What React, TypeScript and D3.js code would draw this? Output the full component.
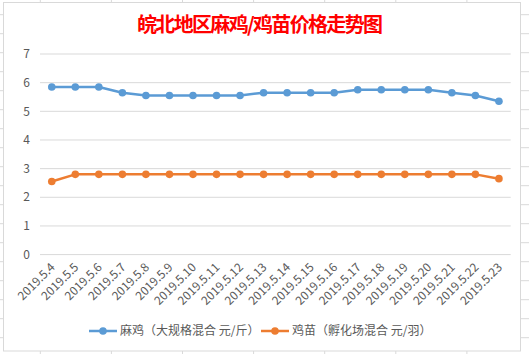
import React from "react";
import * as d3 from "d3";

const categories = ["2019.5.4","2019.5.5","2019.5.6","2019.5.7","2019.5.8","2019.5.9","2019.5.10","2019.5.11","2019.5.12","2019.5.13","2019.5.14","2019.5.15","2019.5.16","2019.5.17","2019.5.18","2019.5.19","2019.5.20","2019.5.21","2019.5.22","2019.5.23"];
const maji = [5.85,5.85,5.85,5.65,5.55,5.55,5.55,5.55,5.55,5.65,5.65,5.65,5.65,5.75,5.75,5.75,5.75,5.65,5.55,5.35];
const jimiao = [2.55,2.8,2.8,2.8,2.8,2.8,2.8,2.8,2.8,2.8,2.8,2.8,2.8,2.8,2.8,2.8,2.8,2.8,2.8,2.65];
const yTicks = [0,1,2,3,4,5,6,7];
const seriesNames = ["麻鸡（大规格混合 元/斤）", "鸡苗（孵化场混合 元/羽）"];
const title = "皖北地区麻鸡/鸡苗价格走势图";

const W = 529, H = 354;
const BLUE = "#5B9BD5", ORANGE = "#ED7D31";
const FONT = "'Noto Sans CJK SC', 'Microsoft YaHei', sans-serif";

export default function App() {
  const x = d3.scaleBand<string>().domain(categories).range([40, 510.7]);
  const y = d3.scaleLinear().domain([0, 7]).range([254.6, 54]);
  const cx = (c: string) => (x(c) as number) + x.bandwidth() / 2;
  const line = d3.line<number>().x((_, i) => cx(categories[i])).y(d => y(d));

  const colLines = d3.range(0, 8).map(i => 40.3 + i * 71.1 - 71.1);
  const rowLines = d3.range(0, 20).map(i => 14.7 + i * 19);

  const series = [
    { name: seriesNames[0], data: maji, color: BLUE },
    { name: seriesNames[1], data: jimiao, color: ORANGE },
  ];

  return (
    <svg width={W} height={H} style={{ position: "absolute", left: 0, top: 0, background: "#fff" }} fontFamily={FONT}>
      {colLines.map((v, i) => (
        <line key={"c" + i} x1={v} x2={v} y1={0} y2={H} stroke="#d9d9d9" strokeWidth={1} />
      ))}
      {rowLines.map((v, i) => (
        <line key={"r" + i} x1={0} x2={W} y1={v} y2={v} stroke="#d9d9d9" strokeWidth={1} />
      ))}
      <rect x={3.5} y={2.5} width={517} height={348.5} fill="#fff" stroke="#d9d9d9" strokeWidth={1} />

      <text x={260} y={32} textAnchor="middle" fill="#FF0000" fontSize={20} fontWeight={600} textLength={246}>
        {title}
      </text>

      {yTicks.map(t => (
        <g key={t}>
          <line x1={40} x2={510.7} y1={y(t)} y2={y(t)} stroke="#d9d9d9" strokeWidth={1} />
          <text x={30} y={y(t)} dy="0.35em" textAnchor="end" fill="#595959" fontSize={12}>{t}</text>
        </g>
      ))}

      {categories.map(c => (
        <text key={c} transform={`translate(${cx(c) + 1},${265}) rotate(-45)`} textAnchor="end" dy="0.35em" fill="#595959" fontSize={12}>
          {c}
        </text>
      ))}

      {series.map(s => (
        <g key={s.name}>
          <path d={line(s.data) || ""} fill="none" stroke={s.color} strokeWidth={2.5} strokeLinejoin="round" />
          {s.data.map((v, i) => (
            <circle key={i} cx={cx(categories[i])} cy={y(v)} r={3.8} fill={s.color} />
          ))}
        </g>
      ))}

      {series.map((s, i) => {
        const lx = i === 0 ? 89 : 261;
        return (
          <g key={"l" + i}>
            <line x1={lx} x2={lx + 28} y1={331} y2={331} stroke={s.color} strokeWidth={2.5} />
            <circle cx={lx + 14} cy={331} r={3.8} fill={s.color} />
            <text x={lx + 31} y={331} dy="0.35em" fill="#595959" fontSize={12}>{s.name}</text>
          </g>
        );
      })}
    </svg>
  );
}
